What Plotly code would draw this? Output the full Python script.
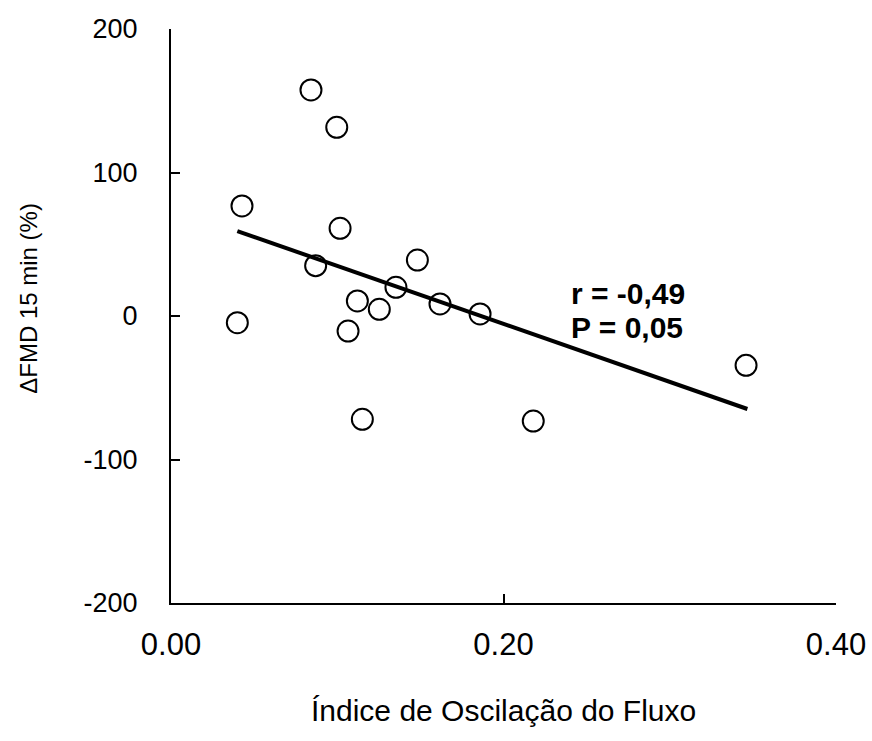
import plotly.graph_objects as go

osc_index = [0.0842, 0.0997, 0.0427, 0.1017, 0.0870, 0.1482, 0.1353, 0.1121,
             0.1253, 0.1618, 0.1859, 0.0399, 0.1065, 0.1151, 0.2179, 0.3459]
delta_fmd = [157.5, 131.5, 76.7, 61.1, 35.1, 39.0, 20.0, 10.5,
             4.7, 8.4, 1.4, -4.7, -10.5, -72.0, -73.2, -34.4]
trend_x = [0.0399, 0.3467]
trend_y = [59.2, -64.8]
x_ticks = [0.0, 0.2, 0.4]
x_labels = ["0.00", "0.20", "0.40"]
y_ticks = [-200, -100, 0, 100, 200]
y_labels = ["-200", "-100", "0", "100", "200"]

FONT = "Liberation Sans, Arial, sans-serif"

fig = go.Figure()
fig.add_trace(go.Scatter(
    x=osc_index, y=delta_fmd, mode="markers",
    marker=dict(size=21, color="white", line=dict(color="black", width=2)),
    showlegend=False, cliponaxis=False))
fig.add_trace(go.Scatter(
    x=trend_x, y=trend_y, mode="lines",
    line=dict(color="black", width=4), showlegend=False))

fig.add_annotation(x=0.2395, y=16, xref="x", yref="y", text="<b>r = -0,49</b>",
                   showarrow=False, xanchor="left", yanchor="middle",
                   font=dict(family=FONT, size=30, color="black"))
fig.add_annotation(x=0.2395, y=-8, xref="x", yref="y", text="<b>P = 0,05</b>",
                   showarrow=False, xanchor="left", yanchor="middle",
                   font=dict(family=FONT, size=30, color="black"))

# axis titles
fig.add_annotation(x=0.5, y=-0.187, xref="paper", yref="paper",
                   text="Índice de Oscilação do Fluxo", showarrow=False,
                   xanchor="center", yanchor="middle",
                   font=dict(family=FONT, size=30, color="black"))
fig.add_annotation(x=-0.2135, y=0.53, xref="paper", yref="paper",
                   text="ΔFMD 15 min (%)", showarrow=False, textangle=-90,
                   xanchor="center", yanchor="middle",
                   font=dict(family=FONT, size=24, color="black"))

fig.update_layout(
    width=872, height=741,
    margin=dict(l=171, r=36, t=29, b=138),
    paper_bgcolor="white", plot_bgcolor="white",
    font=dict(family=FONT, size=22, color="black"),
    xaxis=dict(
        range=[0, 0.4], tickvals=x_ticks, ticktext=x_labels,
        showgrid=False, zeroline=False, showline=True, linecolor="black", linewidth=2,
        ticks="inside", ticklen=9, tickwidth=1.5, tickcolor="black",
        tickfont=dict(family=FONT, size=31),
        ticklabelstandoff=13, automargin=False,
    ),
    yaxis=dict(
        range=[-200, 200], tickvals=y_ticks, ticktext=y_labels,
        showgrid=False, zeroline=False, showline=True, linecolor="black", linewidth=2,
        ticks="inside", ticklen=9, tickwidth=2, tickcolor="black",
        tickfont=dict(family=FONT, size=27),
        ticklabelstandoff=26, automargin=False,
    ),
)

fig.write_html("out.html")
